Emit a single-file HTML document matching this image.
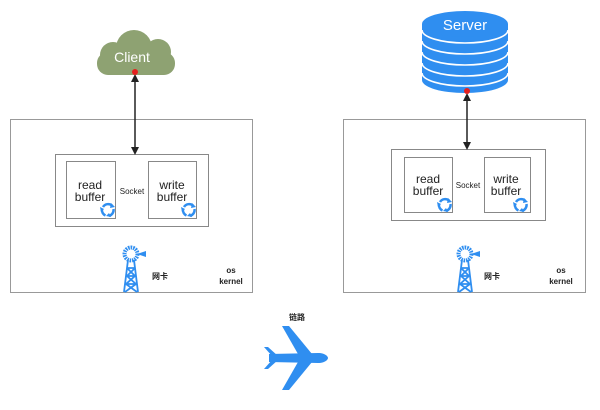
<!DOCTYPE html>
<html><head><meta charset="utf-8"><style>
html,body{margin:0;padding:0;background:#fff;}
svg text{font-family:"Liberation Sans","Noto Sans CJK SC",sans-serif;}
</style></head><body>
<svg width="600" height="405" viewBox="0 0 600 405" xmlns="http://www.w3.org/2000/svg">
<defs>
<marker id="ah" markerWidth="8" markerHeight="8" refX="4" refY="4" orient="auto-start-reverse" markerUnits="userSpaceOnUse"><path d="M0,0 L8,4 L0,8 z" fill="#222"/></marker>
<g id="ant">
  <circle cx="0" cy="0" r="6.5" fill="none" stroke="#2f8ef0" stroke-width="4" stroke-dasharray="1.6 0.9"/>
  <path d="M6,0 L15,-3 L15,3 z" fill="#2f8ef0"/>
  <path d="M-3,6 L-7,38 M3,6 L7,38 M-4,14 L4,22 L-5,30 L6,38 M4,14 L-4,22 L5,30 L-6,38 M-4,14 L4,14 M-4.5,22 L4.5,22 M-5.5,30 L5.5,30" stroke="#2f8ef0" stroke-width="1.8" fill="none"/>
</g>
<g id="cyc">
  <path d="M-5,-3 A6,6 0 0 1 4,-4.5" stroke="#2f8ef0" stroke-width="2.5" fill="none"/>
  <path d="M5.5,-1 A6,6 0 0 1 1,5.8" stroke="#2f8ef0" stroke-width="2.5" fill="none"/>
  <path d="M-2.5,5.5 A6,6 0 0 1 -6,-1" stroke="#2f8ef0" stroke-width="2.5" fill="none"/>
  <path d="M3,-7 L7,-3 L2,-2 z M3,7 L-2,6 L1,3 z M-7,2 L-8,-3 L-4,-1 z" fill="#2f8ef0"/>
</g>
</defs>

<!-- Left -->
<rect x="10.5" y="119.5" width="242" height="173" fill="none" stroke="#999" stroke-width="1"/>
<rect x="55.5" y="154.5" width="153" height="72" fill="none" stroke="#888" stroke-width="1"/>
<rect x="66.5" y="161.5" width="49" height="57" fill="#fff" stroke="#888"/>
<rect x="148.5" y="161.5" width="48" height="57" fill="#fff" stroke="#888"/>
<text x="90" y="189" font-size="12" text-anchor="middle" fill="#222">read</text>
<text x="90" y="201" font-size="12" text-anchor="middle" fill="#222">buffer</text>
<text x="172" y="189" font-size="12" text-anchor="middle" fill="#222">write</text>
<text x="172" y="201" font-size="12" text-anchor="middle" fill="#222">buffer</text>
<text x="132" y="194" font-size="8" text-anchor="middle" fill="#222">Socket</text>
<use href="#cyc" x="108" y="210"/>
<use href="#cyc" x="189" y="210"/>
<use href="#ant" x="131" y="254"/>
<text x="152" y="279" font-size="8" fill="#222" font-weight="bold">网卡</text>
<text x="231" y="273" font-size="8" text-anchor="middle" fill="#222" font-weight="bold">os</text>
<text x="231" y="284" font-size="8" text-anchor="middle" fill="#222" font-weight="bold">kernel</text>
<!-- cloud -->
<g fill="#8ea272">
  <circle cx="134" cy="48" r="18"/>
  <circle cx="113" cy="55" r="13"/>
  <circle cx="158" cy="52" r="13"/>
  <rect x="97" y="52" width="78" height="23" rx="11"/>
</g>
<text x="132" y="62" font-size="14" text-anchor="middle" fill="#fff">Client</text>
<line x1="135" y1="78" x2="135" y2="151" stroke="#222" stroke-width="1.5" marker-start="url(#ah)" marker-end="url(#ah)"/>
<circle cx="135" cy="72" r="3" fill="#e5201e"/>

<!-- Right -->
<rect x="343.5" y="119.5" width="242" height="173" fill="none" stroke="#999"/>
<rect x="391.5" y="149.5" width="154" height="71" fill="none" stroke="#888"/>
<rect x="404.5" y="157.5" width="48" height="55" fill="#fff" stroke="#888"/>
<rect x="484.5" y="157.5" width="46" height="55" fill="#fff" stroke="#888"/>
<text x="428" y="183" font-size="12" text-anchor="middle" fill="#222">read</text>
<text x="428" y="195" font-size="12" text-anchor="middle" fill="#222">buffer</text>
<text x="506" y="183" font-size="12" text-anchor="middle" fill="#222">write</text>
<text x="506" y="195" font-size="12" text-anchor="middle" fill="#222">buffer</text>
<text x="468" y="188" font-size="8" text-anchor="middle" fill="#222">Socket</text>
<use href="#cyc" x="445" y="205"/>
<use href="#cyc" x="521" y="205"/>
<use href="#ant" x="465" y="254"/>
<text x="484" y="279" font-size="8" fill="#222" font-weight="bold">网卡</text>
<text x="561" y="273" font-size="8" text-anchor="middle" fill="#222" font-weight="bold">os</text>
<text x="561" y="284" font-size="8" text-anchor="middle" fill="#222" font-weight="bold">kernel</text>
<!-- server -->
<path d="M422,24 L422,80 A43,13 0 0 0 508,80 L508,24 Z" fill="#2f8ef0"/>
<ellipse cx="465" cy="24" rx="43" ry="13" fill="#2f8ef0"/>
<g stroke="#fff" stroke-width="1.6" fill="none">
<path d="M422,30 A43,13 0 0 0 508,30"/>
<path d="M422,41 A43,13 0 0 0 508,41"/>
<path d="M422,52 A43,13 0 0 0 508,52"/>
<path d="M422,63 A43,13 0 0 0 508,63"/>
<path d="M422,73 A43,13 0 0 0 508,73"/>
</g>
<text x="465" y="30" font-size="15" text-anchor="middle" fill="#fff">Server</text>
<line x1="467" y1="97" x2="467" y2="146" stroke="#222" stroke-width="1.5" marker-start="url(#ah)" marker-end="url(#ah)"/>
<circle cx="467" cy="91" r="3" fill="#e5201e"/>

<!-- link -->
<text x="297" y="320" font-size="8" text-anchor="middle" fill="#222" font-weight="bold">链路</text>
<g fill="#2f8ef0" transform="translate(296,358)">
  <path d="M-27,-4 L22,-5 C30,-5 32,-1 32,0 C32,1 30,5 22,5 L-27,4 Z"/>
  <path d="M2,-4 L-14,-32 L-7,-32 L16,-4 Z"/>
  <path d="M2,4 L-14,32 L-7,32 L16,4 Z"/>
  <path d="M-24,-2 L-32,-11 L-28,-11 L-18,-2 Z"/>
  <path d="M-24,2 L-32,11 L-28,11 L-18,2 Z"/>
  <rect x="-5" y="-20" width="7" height="4" rx="2"/>
  <rect x="-5" y="16" width="7" height="4" rx="2"/>
  <rect x="2" y="-13" width="7" height="4" rx="2"/>
  <rect x="2" y="9" width="7" height="4" rx="2"/>
</g>
</svg>
</body></html>
